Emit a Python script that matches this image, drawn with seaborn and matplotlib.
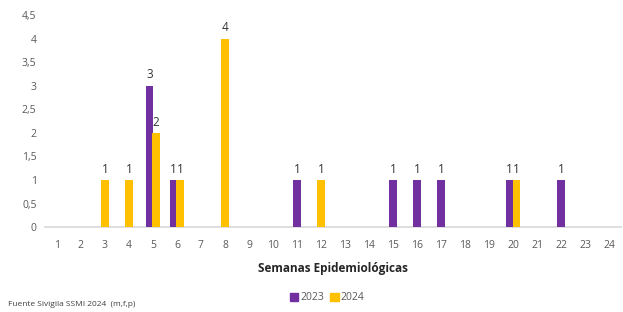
import matplotlib
matplotlib.use("Agg")
import matplotlib.pyplot as plt
import seaborn as sns
import numpy as np
import pandas as pd

weeks = list(range(1, 25))
s2023 = [0, 0, 0, 0, 3, 1, 0, 0, 0, 0, 1, 0, 0, 0, 1, 1, 1, 0, 0, 1, 0, 1, 0, 0]
s2024 = [0, 0, 1, 1, 2, 1, 0, 4, 0, 0, 0, 1, 0, 0, 0, 0, 0, 0, 0, 1, 0, 0, 0, 0]
series_names = ["2023", "2024"]
colors = ["#7030A0", "#FFC000"]
yticks = [0, 0.5, 1, 1.5, 2, 2.5, 3, 3.5, 4, 4.5]

sns.set_theme(style="white")
plt.rcParams['font.family'] = ['Open Sans', 'DejaVu Sans']

fig = plt.figure(figsize=(6.23, 3.12), dpi=100)
ax = fig.add_axes([0.072, 0.272, 0.925, 0.68])

width = 0.32
off = 0.14
gray = "#595959"
for i, w in enumerate(weeks):
    a, b = s2023[i], s2024[i]
    both = a > 0 and b > 0
    for val, col, sgn in ((a, colors[0], -1), (b, colors[1], 1)):
        if val > 0:
            x = w + (sgn * off if both else 0)
            ax.bar(x, val, width=width, color=col, edgecolor="none",
                   linewidth=0, zorder=3)
            ax.text(x, val + 0.09, f"{val}", ha="center", va="bottom",
                    fontsize=8.5, color="#333333")

ax.set_xlim(0.5, 24.5)
ax.set_ylim(0, 4.5)
ax.set_xticks(weeks)
ax.set_xticklabels([str(w) for w in weeks], fontsize=7.5, color=gray)
ax.set_yticks(yticks)
ax.set_yticklabels([f"{t:g}".replace(".", ",") for t in yticks], fontsize=7.5, color=gray)
ax.tick_params(axis="both", length=0, pad=6)
ax.tick_params(axis="x", pad=9)
sns.despine(ax=ax, left=True, top=True, right=True)
ax.spines["bottom"].set_color("#D9D9D9")
ax.set_xlabel("Semanas Epidemiológicas", fontsize=8.5, fontweight="bold",
              color="#262626", labelpad=8)

from matplotlib.patches import Patch
handles = [Patch(color=c, label=n) for c, n in zip(colors, series_names)]
fig.legend(handles=handles, loc="center", bbox_to_anchor=(0.525, 0.045), ncol=2,
           frameon=False, fontsize=7.5, handlelength=0.8, handleheight=0.8,
           handletextpad=0.2, columnspacing=0.6, labelcolor=gray)
fig.text(0.013, 0.012, "Fuente Sivigila SSMI 2024  (m,f,p)", fontsize=6,
         color="#404040", ha="left", va="bottom")

fig.savefig("out.png", dpi=100)
